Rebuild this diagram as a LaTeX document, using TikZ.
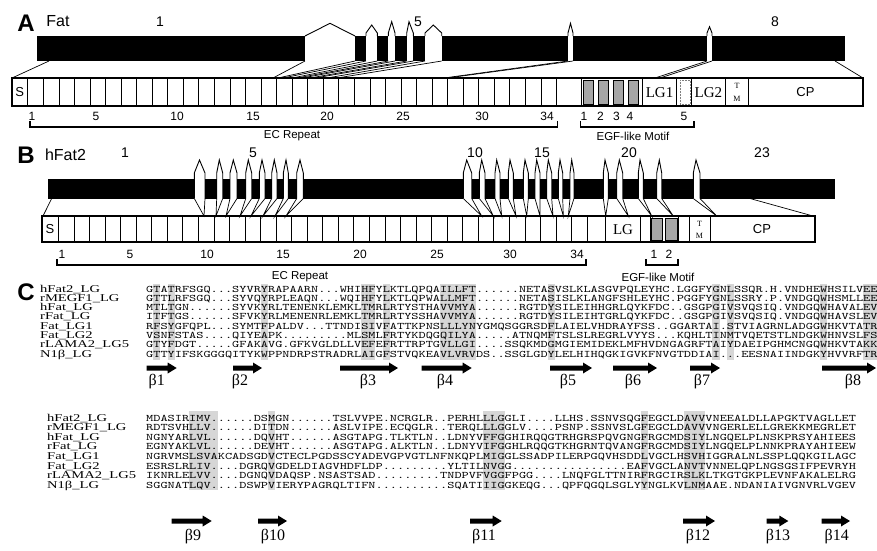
\documentclass[tikz,border=0pt]{standalone}
\usepackage{fontspec}
\setmainfont{Liberation Serif}
\newfontfamily\sansf{Liberation Sans}
\usepackage{graphicx}
\newcommand\sq[1]{\scalebox{1.3657}[1]{\ttfamily\fontsize{10}{10}\selectfont #1}}
\newcommand\nm[1]{\scalebox{1.4}[1]{\fontsize{10.4}{10.4}\selectfont #1}}
\begin{document}
\begin{tikzpicture}[x=1pt,y=-1pt,
  panel/.style={font=\sansf\bfseries\fontsize{24}{24}\selectfont, inner sep=0},
  title/.style={font=\sansf\fontsize{16}{16}\selectfont, inner sep=0},
  exno/.style={font=\sansf\fontsize{14}{14}\selectfont, inner sep=0},
  num/.style={font=\sansf\fontsize{12}{12}\selectfont, inner sep=0},
  captx/.style={font=\sansf\fontsize{11.5}{11.5}\selectfont, inner sep=0},
  domtx/.style={font=\fontsize{15}{15}\selectfont, inner sep=0},
  sdom/.style={font=\sansf\fontsize{13}{13}\selectfont, inner sep=0},
  tmtx/.style={font=\fontsize{8}{8}\selectfont, inner sep=0},
  cell/.style={line width=0.6pt},
  outer/.style={line width=1.2pt},
  hat/.style={line width=0.9pt},
  mapl/.style={line width=0.7pt},
  brk/.style={line width=1.1pt},
  blab/.style={font=\fontsize{16}{16}\selectfont, inner sep=0},
  seqrow/.style={inner sep=0, anchor=base west},
  shade/.style={fill=black!16},
  egf/.style={fill=black!35, draw=black, line width=0.4pt},
]
\fill[white] (0,0) rectangle (877,550);
\useasboundingbox (0,0) rectangle (877,550);

% ================= Panel A =================
\node[panel] (pA) at (26,23) {A};
\node[title] (tA) at (58,21) {Fat};
\node[exno] (eA1) at (160,22) {1};
\node[exno] (eA5) at (418,22) {5};
\node[exno] (eA8) at (775,22) {8};

\fill (37,36) rectangle (845,61);
\foreach \l/\r in {305/355, 366/377.3, 388.3/395, 406.7/413.3, 425/441.7, 568/573, 707/712}
  \fill[white] (\l,36) rectangle (\r,61);
\draw[hat] (305,36) -- (330,23.3) -- (355,36);
\foreach \l/\r/\p/\h in {366/377.3/371.7/25, 388.3/395/391.7/21.7, 406.7/413.3/409/21.7, 425/441.7/433.3/25, 568/573/570.5/23.3, 707/712/709.5/26.7}
  \draw[hat] (\l,36) -- (\l,33) -- (\p,\h) -- (\r,33) -- (\r,36);
\foreach \t/\b in {49/12, 305/273, 355/278, 366/283, 377.3/292, 388.3/297, 395/302, 406.7/310, 413.3/315, 425/327, 441.7/337, 568/444, 573/447, 707/655, 712/660, 835/863}
  \draw[mapl] (\t,61) -- (\b,78);

% domain row A
\draw[outer] (12,78) rectangle (863,106);
\draw[cell] (27.7,78) -- ++(0,28);
\foreach \k in {1,...,34} \draw[cell] ({27.7+15.55*\k},78) -- ++(0,28);
\draw[cell] (581,78) -- ++(0,28);
\foreach \a in {583,598,613,628} \filldraw[egf] (\a,80) rectangle (\a+10,104);
\foreach \a in {642.3,676.7,691.3,725.5,748.3} \draw[cell] (\a,78) -- ++(0,28);
\draw[densely dotted, gray, line width=0.5pt] (680,80) rectangle (690,104);
\node[sdom] (sA) at (19.8,92) {S};
\node[domtx] (lg1) at (659.5,92.5) {LG1};
\node[domtx] (lg2) at (708.4,92.5) {LG2};
\node[tmtx] (tA1) at (737,86) {T};
\node[tmtx] (tA2) at (737,98.5) {M};
\node[sdom] (cpA) at (805.5,92) {CP};

\foreach \x/\n in {32/1, 96/5, 177/10, 253/15, 327/20, 403/25, 482/30, 547/34, 584/1, 600.5/2, 616.5/3, 630/4, 684/5}
  \node[num] at (\x,116.5) {\n};
\draw[brk] (30,121) -- (30,127) -- (557.7,127) -- (557.7,121);
\draw[brk] (580.7,121) -- (580.7,127) -- (694,127) -- (694,121);
\node[captx] (ecA) at (292,135.5) {EC Repeat};
\node[captx] (egA) at (633,136) {EGF-like Motif};

% ================= Panel B =================
\node[panel] (pB) at (26,155) {B};
\node[title] (tB) at (65.5,155) {hFat2};
\foreach \x/\n in {125/1, 253/5, 475/10, 542/15, 629/20, 762/23}
  \node[exno] at (\x,152.5) {\n};

\fill (48,178.5) rectangle (835,198.5);
\foreach \l/\r/\p/\t in {194.3/205/199.5/204, 216.7/222.7/219.3/216, 230/237/233.3/226, 245.7/251.7/248.3/240, 259.3/265/262/251, 271.7/277/274.3/263, 283.3/288.3/286/275, 296.7/303.3/300/286, 463.3/471.7/466.7/481.7, 479.3/485/481.7/493.3, 495/500/496.7/501.7, 508.3/513.3/510/516, 523.3/528.3/525/526.7, 535/540/536.7/540, 546.7/551.7/548.3/553, 558.3/562.7/560/563.3, 570/574/571.7/568.3, 603.3/608.3/605/605.7, 616.7/622.7/619.3/628.3, 638.3/643.3/640/651.7, 656.7/661.7/659.3/673.3, 693.3/700/696/716.7}
{
  \fill[white] (\l,178.5) rectangle (\r,198.5);
  \draw[hat] (\l,198.5) -- (\l,173) -- (\p,160) -- (\r,173) -- (\r,198.5);
  \draw[mapl] (\l,198.5) -- (\t,216) -- (\r,198.5);
}
\draw[mapl] (51.7,198.5) -- (43,216);
\draw[mapl] (750,198.5) -- (813,216);

% domain row B
\draw[outer] (42,216) rectangle (815,242);
\draw[cell] (58.3,216) -- ++(0,26);
\foreach \k in {1,...,34} \draw[cell] ({58.3+15.55*\k},216) -- ++(0,26);
\foreach \a in {605.7,640.7,650,678,689,710} \draw[cell] (\a,216) -- ++(0,26);
\filldraw[egf] (651,218) rectangle (662.5,240);
\filldraw[egf] (665.5,218) rectangle (677,240);
\node[sdom] (sB) at (50,229) {S};
\node[domtx] (lgB) at (623,229.5) {LG};
\node[tmtx] (tB1) at (699.5,223.5) {T};
\node[tmtx] (tB2) at (699.5,235.5) {M};
\node[sdom] (cpB) at (762,229) {CP};

\foreach \x/\n in {62/1, 130/5, 207/10, 283/15, 360/20, 437/25, 510/30, 577/34, 654/1, 669/2}
  \node[num] at (\x,254.5) {\n};
\draw[brk] (57,259) -- (57,265) -- (586,265) -- (586,259);
\draw[brk] (646,259) -- (646,265) -- (678,265) -- (678,259);
\node[captx] (ecB) at (300,277) {EC Repeat};
\node[captx] (egB) at (658,277.5) {EGF-like Motif};

% ================= Panel C =================
\node[panel] (pC) at (26,292) {C};

% conserved-column shading
\foreach \c in {1,3,16,30,31,33,41,42,43,44,45,56,79,81,94,100,101}
  \fill[shade] ({146+7.17*\c},284) rectangle ++(7.17,76);
\foreach \c in {6,7,8,9,17,47,48,49,69,75,76,77}
  \fill[shade] ({146+7.17*\c},411) rectangle ++(7.17,79);

% block 1
\node[seqrow] (n11) at (40,292.0) {\nm{hFat2\_LG}};
\node[seqrow] (n12) at (40,301.3) {\nm{rMEGF1\_LG}};
\node[seqrow] (n13) at (40,310.6) {\nm{hFat\_LG}};
\node[seqrow] (n14) at (40,319.9) {\nm{rFat\_LG}};
\node[seqrow] (n15) at (40,329.2) {\nm{Fat\_LG1}};
\node[seqrow] (n16) at (40,338.5) {\nm{Fat\_LG2}};
\node[seqrow] (n17) at (40,347.8) {\nm{rLAMA2\_LG5}};
\node[seqrow] (n18) at (40,357.1) {\nm{N1β\_LG}};
\node[seqrow] (s11) at (146,292.0) {\sq{GTATRFSGQ...SYVRYRAPAARN...WHIHFYLKTLQPQAILLFT......NETASVSLKLASGVPQLEYHC.LGGFYGNLSSQR.H.VNDHEWHSILVEE}};
\node[seqrow] (s12) at (146,301.3) {\sq{GTTLRFSGQ...SYVQYRPLEAQN...WQIHFYLKTLQPWALLMFT......NETASISLKLANGFSHLEYHC.PGGFYGNLSSRY.P.VNDGQWHSMLLEE}};
\node[seqrow] (s13) at (146,310.6) {\sq{MTLTGN......SYVKYRLTENENKLEMKLTMRLRTYSTHAVVMYA......RGTDYSILEIHHGRLQYKFDC..GSGPGIVSVQSIQ.VNDGQWHAVALEV}};
\node[seqrow] (s14) at (146,319.9) {\sq{ITFTGS......SFVKYRLMENENRLEMKLTMRLRTYSSHAVVMYA......RGTDYSILEIHTGRLQYKFDC..GSGPGIVSVQSIQ.VNDGQWHAVSLEV}};
\node[seqrow] (s15) at (146,329.2) {\sq{RFSYGFQPL...SYMTFPALDV...TTNDISIVFATTKPNSLLLYNYGMQSGGRSDFLAIELVHDRAYFSS..GGARTAI.STVIAGRNLADGGWHKVTATR}};
\node[seqrow] (s16) at (146,338.5) {\sq{VSNFSTAS....QIYEAPK.........MLSMLFRTYKDQGQILYA.....ATNQMFTSLSLREGRLVYYS...KQHLTINMTVQETSTLNDGKWHNVSLFS}};
\node[seqrow] (s17) at (146,347.8) {\sq{GTYFDGT.....GFAKAVG.GFKVGLDLLVEFEFRTTRPTGVLLGI....SSQKMDGMGIEMIDEKLMFHVDNGAGRFTAIYDAEIPGHMCNGQWHKVTAKK}};
\node[seqrow] (s18) at (146,357.1) {\sq{GTTYIFSKGGGQITYKWPPNDRPSTRADRLAIGFSTVQKEAVLVRVDS..SSGLGDYLELHIHQGKIGVKFNVGTDDIAI...EESNAIINDGKYHVVRFTR}};

% block 2
\node[seqrow] (n21) at (47,421.0) {\nm{hFat2\_LG}};
\node[seqrow] (n22) at (47,430.6) {\nm{rMEGF1\_LG}};
\node[seqrow] (n23) at (47,440.2) {\nm{hFat\_LG}};
\node[seqrow] (n24) at (47,449.8) {\nm{rFat\_LG}};
\node[seqrow] (n25) at (47,459.4) {\nm{Fat\_LG1}};
\node[seqrow] (n26) at (47,469.0) {\nm{Fat\_LG2}};
\node[seqrow] (n27) at (47,478.6) {\nm{rLAMA2\_LG5}};
\node[seqrow] (n28) at (47,488.2) {\nm{N1β\_LG}};
\node[seqrow] (s21) at (146,421.0) {\sq{MDASIRIMV......DSMGN......TSLVVPE.NCRGLR..PERHLLLGGLI....LLHS.SSNVSQGFEGCLDAVVVNEEALDLLAPGKTVAGLLET}};
\node[seqrow] (s22) at (146,430.6) {\sq{RDTSVHLLV......DITDN......ASLVIPE.ECQGLR..TERQLLLGGLV....PSNP.SSNVSLGFEGCLDAVVVNGERLELLGREKKMEGRLET}};
\node[seqrow] (s23) at (146,440.2) {\sq{NGNYARLVL......DQVHT......ASGTAPG.TLKTLN..LDNYVFFGGHIRQQGTRHGRSPQVGNGFRGCMDSIYLNGQELPLNSKPRSYAHIEES}};
\node[seqrow] (s24) at (146,449.8) {\sq{EGNYAKLVL......DEVHT......ASGTAPG.ALKTLN..LDNYVIFGGHLRQQGTKHGRNTQVANGFRGCMDSIYLNGQELPLNNKPRAYAHIEEW}};
\node[seqrow] (s25) at (146,459.4) {\sq{NGRVMSLSVAKCADSGDVCTECLPGDSSCYADEVGPVGTLNFNKQPLMIGGLSSADPILERPGQVHSDDLVGCLHSVHIGGRALNLSSPLQQKGILAGC}};
\node[seqrow] (s26) at (146,469.0) {\sq{ESRSLRLIV....DGRQVGDELDIAGVHDFLDP.........YLTILNVGG................EAFVGCLANVTVNNELQPLNGSGSIFPEVRYH}};
\node[seqrow] (s27) at (146,478.6) {\sq{IKNRLELVV....DGNQVDAQSP.NSASTSAD.........TNDPVFVGGFPGG....LNQFGLTTNIRFRGCIRSLKLTKGTGKPLEVNFAKALELRG}};
\node[seqrow] (s28) at (146,488.2) {\sq{SGGNATLQV....DSWPVIERYPAGRQLTIFN..........SQATIIIGGKEQG...QPFQGQLSGLYYNGLKVLNMAAE.NDANIAIVGNVRLVGEV}};

% beta strand arrows
\foreach \a/\b in {146.7/176.7, 233/262, 340/398, 421.7/471.7, 550/592, 613/657, 690/720, 822/876}
  \fill (\a,365.5) -- (\b-9,365.5) -- (\b-9,362.5) -- (\b,368) -- (\b-9,373.5) -- (\b-9,370.5) -- (\a,370.5) -- cycle;
\foreach \a/\b in {171.7/211.7, 258/287, 470/501.7, 683/715, 766.7/788.3, 821.7/850}
  \fill (\a,518.5) -- (\b-9,518.5) -- (\b-9,515.5) -- (\b,521) -- (\b-9,526.5) -- (\b-9,523.5) -- (\a,523.5) -- cycle;
\foreach \x/\n in {156.7/1, 240/2, 368/3, 445/4, 568/5, 633/6, 702/7, 853/8}
  \node[blab] at (\x,382) {β\n};
\foreach \x/\n in {193/9, 273/10, 484/11, 698/12, 778/13, 836.7/14}
  \node[blab] at (\x,537) {β\n};
\end{tikzpicture}
\end{document}
